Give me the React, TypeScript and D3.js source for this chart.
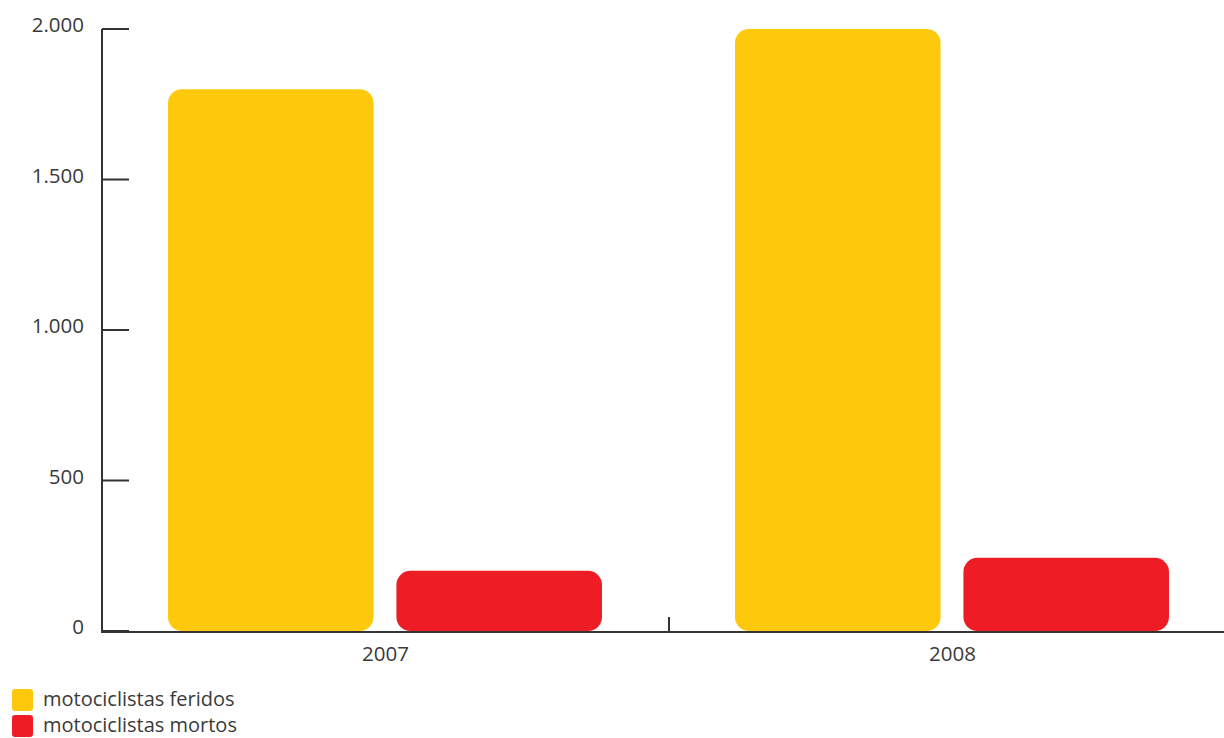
import React from "react";
import * as d3 from "d3";

const years = ["2007", "2008"];
const series = ["motociclistas feridos", "motociclistas mortos"];
const feridos = [1800, 2000];
const mortos = [200, 243];
const yTicks = [0, 500, 1000, 1500, 2000];
const colors = ["#FEC90D", "#EE1D25"];

const W = 1224;
const H = 738;

export default function App() {
  const x0 = d3.scaleBand().domain(years).range([102, 1236]).paddingInner(0).paddingOuter(0);
  const x1 = d3.scaleBand().domain(series).range([66, x0.bandwidth() - 67]).paddingInner(0.1);
  const y = d3.scaleLinear().domain([0, 2000]).range([631, 29]);
  const fmt = (v: number) => d3.format(",")(v).replace(/,/g, ".");
  const values = [feridos, mortos];
  const font = "'Open Sans', sans-serif";

  return (
    <svg width={W} height={H} style={{ position: "absolute", left: 0, top: 0, background: "#fff" }}>
      {years.map((yr, i) =>
        series.map((s, j) => {
          const v = values[j][i];
          const bx = (x0(yr) as number) + (x1(s) as number);
          return (
            <rect
              key={yr + s}
              x={bx}
              y={y(v)}
              width={x1.bandwidth()}
              height={y(0) - y(v)}
              rx={14}
              ry={14}
              fill={colors[j]}
            />
          );
        })
      )}
      {/* y axis */}
      <line x1={102} x2={102} y1={y(2000)} y2={y(0) + 1} stroke="#333" strokeWidth={2} />
      {yTicks.map((t) => (
        <g key={t}>
          <line x1={102} x2={129} y1={y(t)} y2={y(t)} stroke="#333" strokeWidth={2} />
          <text x={84} y={y(t) + 3} textAnchor="end" fontFamily={font} fontSize={20.5} fill="#3a3a3a">
            {fmt(t)}
          </text>
        </g>
      ))}
      {/* x axis */}
      <line x1={101} x2={W} y1={y(0) + 1} y2={y(0) + 1} stroke="#333" strokeWidth={2} />
      <line x1={x0("2008") as number} x2={x0("2008") as number} y1={617} y2={632} stroke="#333" strokeWidth={2} />
      {years.map((yr) => (
        <text
          key={yr}
          x={(x0(yr) as number) + x0.bandwidth() / 2}
          y={661}
          textAnchor="middle"
          fontFamily={font}
          fontSize={20.5}
          fill="#3a3a3a"
        >
          {yr}
        </text>
      ))}
      {/* legend */}
      {series.map((s, j) => (
        <g key={s} transform={`translate(12, ${689 + j * 26})`}>
          <rect width={21} height={22} rx={3} fill={colors[j]} />
          <text x={31} y={17} fontFamily={font} fontSize={20} fill="#3a3a3a">
            {s}
          </text>
        </g>
      ))}
    </svg>
  );
}
